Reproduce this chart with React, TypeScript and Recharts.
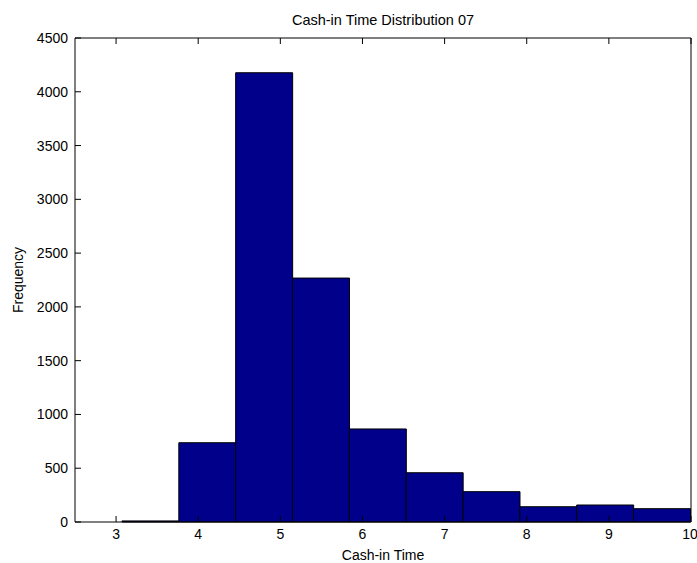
import { BarChart, Bar, XAxis, YAxis, Label } from "recharts"

// histogram bins (centres) and counts
const binCenters = [3.418, 4.11, 4.802, 5.494, 6.186, 6.878, 7.57, 8.262, 8.954, 9.646]
const counts = [10, 737, 4177, 2268, 865, 458, 282, 142, 158, 124]
const xTicks = [3, 4, 5, 6, 7, 8, 9, 10]
const yTicks = [0, 500, 1000, 1500, 2000, 2500, 3000, 3500, 4000, 4500]

const data = binCenters.map((x, i) => ({ x, count: counts[i] }))

const FONT = "'Liberation Sans', Arial, sans-serif"

// box axes: tick marks only, no labels
const NoLabel = () => <g />

export default function App() {
  const tickStyle = { fill: "#000", fontSize: 14, fontFamily: FONT }

  return (
    <div style={{ position: "absolute", left: 0, top: 0, background: "#fff" }}>
      <BarChart
        width={697}
        height={563}
        data={data}
        margin={{ top: 15, right: 0, bottom: 0, left: 0 }}
        barCategoryGap={0}
        barGap={0}
      >
        <XAxis
          dataKey="x"
          type="number"
          domain={[2.5, 10]}
          ticks={xTicks}
          allowDataOverflow
          height={41}
          tickSize={-6}
          tickMargin={13}
          stroke="#000"
          tick={tickStyle}
        >
          <Label
            value="Cash-in Time"
            position="insideBottom"
            offset={3}
            style={{ fill: "#000", fontSize: 14, fontFamily: FONT }}
          />
        </XAxis>
        <XAxis
          xAxisId="top"
          orientation="top"
          dataKey="x"
          type="number"
          domain={[2.5, 10]}
          ticks={xTicks}
          allowDataOverflow
          height={23}
          tickSize={-6}
          tick={<NoLabel />}
          stroke="#000"
        >
          <Label
            value="Cash-in Time Distribution 07"
            position="insideTop"
            offset={0}
            style={{ fill: "#000", fontSize: 14.5, fontFamily: FONT }}
          />
        </XAxis>
        <YAxis
          domain={[0, 4500]}
          ticks={yTicks}
          width={75}
          tickSize={-6}
          tickMargin={13}
          stroke="#000"
          tick={tickStyle}
        >
          <Label
            value="Frequency"
            angle={-90}
            position="insideLeft"
            offset={18}
            style={{ fill: "#000", fontSize: 14, fontFamily: FONT, textAnchor: "middle" }}
          />
        </YAxis>
        <YAxis
          yAxisId="right"
          orientation="right"
          domain={[0, 4500]}
          ticks={yTicks}
          width={6}
          tickSize={-6}
          tick={<NoLabel />}
          stroke="#000"
        />
        <Bar dataKey="count" fill="#00008b" stroke="#000" strokeWidth={1} isAnimationActive={false} />
      </BarChart>
    </div>
  )
}
